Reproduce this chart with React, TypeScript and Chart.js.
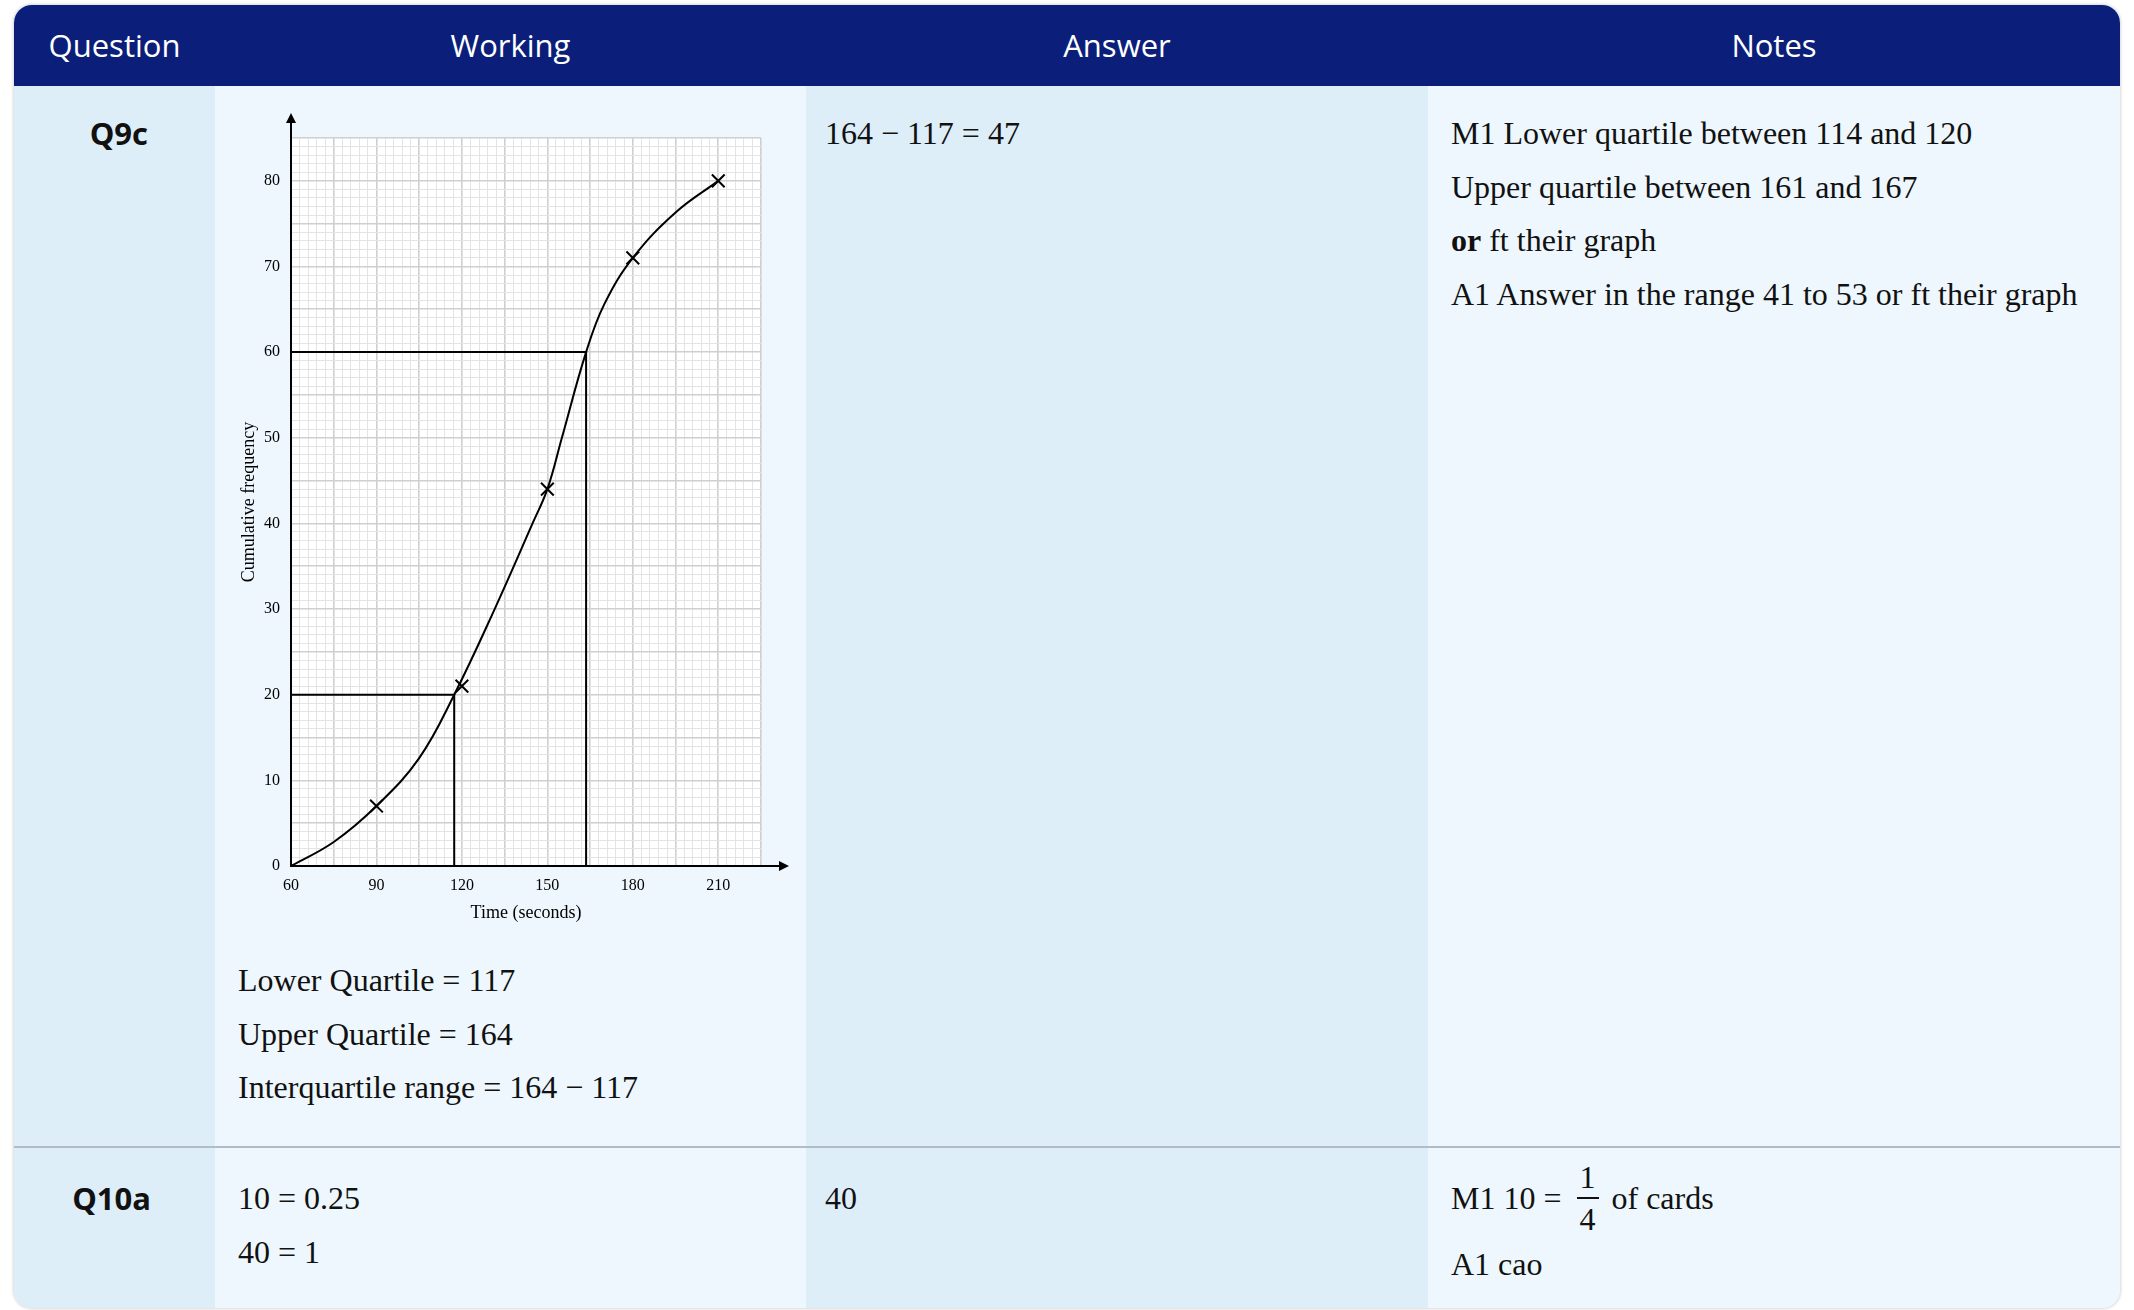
import React, { useEffect, useRef } from "react";
import { Chart, registerables } from "chart.js";

Chart.register(...registerables);

// ---------------- data ----------------
const columnHeaders = ["Question", "Working", "Answer", "Notes"];
const questionLabels = ["Q9c", "Q10a"];

const xAxisTitle = "Time (seconds)";
const yAxisTitle = "Cumulative frequency";
const xMin = 60;
const xMax = 225;
const xMinorStep = 3;
const xMajorStep = 15;
const xLabelStep = 30;
const xLabelMax = 210;
const yMin = 0;
const yMax = 85;
const yMinorStep = 1;
const yMajorStep = 5;
const yLabelStep = 10;
const yLabelMax = 80;

// plotted crosses
const plottedTime = [90, 120, 150, 180, 210];
const plottedFreq = [7, 21, 44, 71, 80];

// freehand curve
const curveTime = [60, 75, 90, 105, 117.3, 131.5, 144.8, 150, 155.1, 163.6, 170, 180, 195, 210];
const curveFreq = [0, 2.8, 7, 12.6, 20, 30, 40, 44, 50, 60, 65.6, 71, 76.3, 80];

// quartile read-off lines
const quartileFreq = [20, 60];
const quartileTime = [117.3, 163.6];

const workingLines9c = ["Lower Quartile = 117", "Upper Quartile = 164", "Interquartile range = 164 \u2212 117"];
const answer9c = "164 \u2212 117 = 47";
const notes9c: { bold?: string; text: string }[] = [
  { text: "M1 Lower quartile between 114 and 120" },
  { text: "Upper quartile between 161 and 167" },
  { bold: "or", text: " ft their graph" },
  { text: "A1 Answer in the range 41 to 53 or ft their graph" },
];
const workingLines10a = ["10 = 0.25", "40 = 1"];
const answer10a = "40";
const notes10aPrefix = "M1 10 =";
const notes10aFraction = ["1", "4"];
const notes10aSuffix = "of cards";
const notes10aSecond = "A1 cao";

// ---------------- styles ----------------
const SERIF = "'Liberation Serif', 'Times New Roman', serif";
const SANS = "'Open Sans', 'Noto Sans', sans-serif";
const NAVY = "#0b1f7a";
const BG_DARK = "#ddeef9";
const BG_LIGHT = "#edf7fd";
const BODY_SIZE = 32;

const axesPlugin = {
  id: "axesArrows",
  beforeDraw(chart: any) {
    const { ctx, chartArea } = chart;
    ctx.save();
    ctx.fillStyle = "#ffffff";
    ctx.fillRect(chartArea.left, chartArea.top, chartArea.right - chartArea.left, chartArea.bottom - chartArea.top);
    ctx.restore();
  },
  afterDatasetsDraw(chart: any) {
    const { ctx, chartArea } = chart;
    const x0 = chartArea.left;
    const y0 = chartArea.bottom;
    const yTip = chartArea.top - 25;
    const xTip = chartArea.right + 28;
    ctx.save();
    ctx.strokeStyle = "#000";
    ctx.fillStyle = "#000";
    ctx.lineWidth = 2;
    ctx.beginPath();
    ctx.moveTo(x0, y0);
    ctx.lineTo(x0, yTip + 6);
    ctx.moveTo(x0 - 1, y0);
    ctx.lineTo(xTip - 6, y0);
    ctx.stroke();
    ctx.beginPath();
    ctx.moveTo(x0, yTip);
    ctx.lineTo(x0 - 5, yTip + 10);
    ctx.lineTo(x0 + 5, yTip + 10);
    ctx.closePath();
    ctx.fill();
    ctx.beginPath();
    ctx.moveTo(xTip, y0);
    ctx.lineTo(xTip - 10, y0 - 5);
    ctx.lineTo(xTip - 10, y0 + 5);
    ctx.closePath();
    ctx.fill();
    ctx.restore();
  },
};

function OgiveChart() {
  const ref = useRef<HTMLCanvasElement | null>(null);
  useEffect(() => {
    if (!ref.current) return;
    const curve = curveTime.map((t, i) => ({ x: t, y: curveFreq[i] }));
    const crosses = plottedTime.map((t, i) => ({ x: t, y: plottedFreq[i] }));
    const qLines = quartileFreq.map((q, i) => ({
      data: [
        { x: xMin, y: q },
        { x: quartileTime[i], y: q },
        { x: quartileTime[i], y: yMin },
      ],
      showLine: true,
      borderColor: "#000",
      borderWidth: 2,
      pointRadius: 0,
      tension: 0,
    }));
    const chart = new Chart(ref.current, {
      type: "scatter",
      data: {
        datasets: [
          {
            data: crosses,
            showLine: false,
            pointStyle: "crossRot",
            pointRadius: 9,
            borderColor: "#000",
            pointBorderWidth: 2,
          } as any,
          {
            data: curve,
            showLine: true,
            borderColor: "#000",
            borderWidth: 2,
            pointRadius: 0,
            tension: 0.4,
          } as any,
          ...(qLines as any[]),
        ],
      },
      options: {
        responsive: false,
        animation: false,
        events: [],
        layout: { padding: { top: 38, left: 0, right: 45, bottom: 0 } },
        plugins: { legend: { display: false }, tooltip: { enabled: false } },
        scales: {
          x: {
            type: "linear",
            min: xMin,
            max: xMax,
            border: { display: false },
            grid: {
              drawTicks: false,
              color: (c: any) => ((c.tick.value - xMin) % xMajorStep === 0 ? "#cfcfcf" : "#e4e4e4"),
              lineWidth: (c: any) => ((c.tick.value - xMin) % xMajorStep === 0 ? 1.6 : 1),
            },
            ticks: {
              stepSize: xMinorStep,
              autoSkip: false,
              maxRotation: 0,
              padding: 10,
              color: "#000",
              font: { family: SERIF, size: 16 },
              callback: (v: any) => ((v - xMin) % xLabelStep === 0 && v <= xLabelMax ? String(v) : ""),
            },
            title: {
              display: true,
              text: xAxisTitle,
              color: "#000",
              font: { family: SERIF, size: 18 },
              padding: { top: 0, bottom: 16 },
            },
            afterFit: (s: any) => {
              s.height = 74;
            },
          },
          y: {
            type: "linear",
            min: yMin,
            max: yMax,
            border: { display: false },
            grid: {
              drawTicks: false,
              color: (c: any) => (c.tick.value % yMajorStep === 0 ? "#cfcfcf" : "#e4e4e4"),
              lineWidth: (c: any) => (c.tick.value % yMajorStep === 0 ? 1.6 : 1),
            },
            ticks: {
              stepSize: yMinorStep,
              autoSkip: false,
              padding: 11,
              color: "#000",
              font: { family: SERIF, size: 16 },
              callback: (v: any) => (v % yLabelStep === 0 && v <= yLabelMax ? String(v) : ""),
            },
            title: {
              display: true,
              text: yAxisTitle,
              color: "#000",
              font: { family: SERIF, size: 18 },
              padding: { top: 22, bottom: 0 },
            },
            afterFit: (s: any) => {
              s.width = 75;
            },
          },
        },
      },
      plugins: [axesPlugin],
    });
    return () => chart.destroy();
  }, []);
  return <canvas ref={ref} width={590} height={840} style={{ position: "absolute", left: 202, top: 95, width: 590, height: 840 }} />;
}

function Line({ left, cy, children, size = BODY_SIZE, font = SERIF, weight = 400, align = "left", width }: any) {
  const lh = 44;
  return (
    <div
      style={{
        position: "absolute",
        left,
        top: cy - lh / 2,
        width,
        height: lh,
        lineHeight: lh + "px",
        fontSize: size,
        fontFamily: font,
        fontWeight: weight,
        color: "#111",
        whiteSpace: "nowrap",
        textAlign: align,
      }}
    >
      {children}
    </div>
  );
}

export default function App() {
  // column edges inside the table box
  const cols = [0, 201, 792, 1414, 2106];
  const colBg = [BG_DARK, BG_LIGHT, BG_DARK, BG_LIGHT];
  const lineGap = 53.7;
  const tableH = 1303;
  return (
    <div style={{ position: "absolute", left: 0, top: 0, width: 2134, height: 1310, background: "#fff", overflow: "hidden" }}>
      <div
        style={{
          position: "absolute",
          left: 14,
          top: 5,
          width: 2106,
          height: tableH,
          borderRadius: 18,
          overflow: "hidden",
          boxShadow: "0 0 3px 1px rgba(0,0,0,0.16)",
          background: BG_LIGHT,
        }}
      >
        {colBg.map((bg, i) => (
          <div key={i} style={{ position: "absolute", left: cols[i], top: 0, width: cols[i + 1] - cols[i], height: tableH, background: bg }} />
        ))}
        <div style={{ position: "absolute", left: 0, top: 0, width: 2106, height: 81, background: NAVY }} />
        {columnHeaders.map((h, i) => (
          <div
            key={h}
            style={{
              position: "absolute",
              left: cols[i],
              top: 0,
              width: cols[i + 1] - cols[i],
              height: 80,
              lineHeight: "80px",
              textAlign: "center",
              color: "#fff",
              fontFamily: SANS,
              fontSize: 31,
            }}
          >
            {h}
          </div>
        ))}
        <div style={{ position: "absolute", left: 0, top: 1141, width: 2106, height: 1.5, background: "#b3bcc6" }} />

        {/* Row Q9c */}
        <Line left={0} width={134} cy={128} font={SANS} weight={700} size={31} align="right">
          {questionLabels[0]}
        </Line>
        <OgiveChart />
        {workingLines9c.map((t, i) => (
          <Line key={t} left={224} cy={975 + i * lineGap}>
            {t}
          </Line>
        ))}
        <Line left={811} cy={128}>
          {answer9c}
        </Line>
        {notes9c.map((n, i) => (
          <Line key={i} left={1437} cy={128 + i * lineGap}>
            {n.bold ? <b>{n.bold}</b> : null}
            {n.text}
          </Line>
        ))}

        {/* Row Q10a */}
        <Line left={0} width={137} cy={1193} font={SANS} weight={700} size={31} align="right">
          {questionLabels[1]}
        </Line>
        {workingLines10a.map((t, i) => (
          <Line key={t} left={224} cy={1193 + i * lineGap}>
            {t}
          </Line>
        ))}
        <Line left={811} cy={1193}>
          {answer10a}
        </Line>
        <div
          style={{
            position: "absolute",
            left: 1437,
            top: 1193 - 45,
            height: 90,
            display: "flex",
            alignItems: "center",
            fontFamily: SERIF,
            fontSize: BODY_SIZE,
            color: "#111",
            whiteSpace: "nowrap",
          }}
        >
          <span>{notes10aPrefix}</span>
          <span style={{ display: "inline-flex", flexDirection: "column", alignItems: "center", margin: "0 13px 0 15px", fontSize: 32 }}>
            <span style={{ lineHeight: "40px", padding: "0 3px" }}>{notes10aFraction[0]}</span>
            <span style={{ height: 2, background: "#111", alignSelf: "stretch" }} />
            <span style={{ lineHeight: "40px" }}>{notes10aFraction[1]}</span>
          </span>
          <span>{notes10aSuffix}</span>
        </div>
        <Line left={1437} cy={1259}>
          {notes10aSecond}
        </Line>
      </div>
    </div>
  );
}
